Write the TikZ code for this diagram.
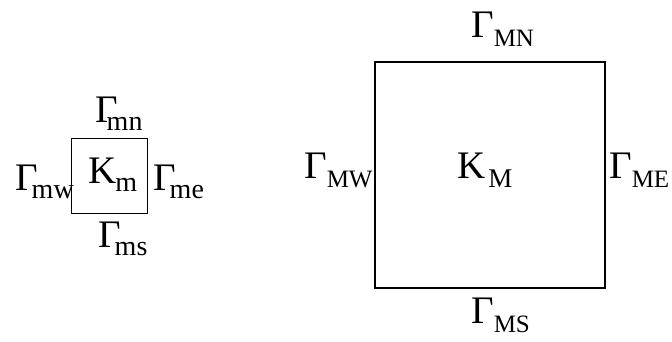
\documentclass[tikz,border=0pt]{standalone}
\usepackage{fontspec}
\setmainfont{Liberation Serif}
\newcommand\bigG[1]{\fontsize{39}{39}\selectfont #1}
\newcommand\gU[2]{{\bigG{#1}}\raisebox{-9pt}{\fontsize{25}{25}\selectfont #2}}
\newcommand\gL[3]{{\bigG{#1}}\kern#3\raisebox{-8pt}{\fontsize{28}{28}\selectfont #2}}
\begin{document}
\begin{tikzpicture}[x=1pt,y=-1pt,
  lbl/.style={inner sep=0pt,anchor=base west},
  thinbox/.style={draw,line width=0.9pt},
  thickbox/.style={draw,line width=1.8pt}]
\useasboundingbox (0,0) rectangle (672,341);
% small element
\draw[thinbox] (71,138) rectangle (147,213);
\node[lbl] (mn) at (95,122) {\gL{Γ}{mn}{-11pt}};
\node[lbl] (mw) at (15,190) {\gL{Γ}{mw}{-6pt}};
\node[lbl] (me) at (153,190) {\gL{Γ}{me}{-6pt}};
\node[lbl] (ms) at (98,247) {\gL{Γ}{ms}{-6pt}};
\node[lbl] (Km) at (88,183) {\gL{K}{m}{-1pt}};
% large element
\draw[thickbox] (375,62) rectangle (605,288);
\node[lbl] (MN) at (471,37) {\gU{Γ}{MN}};
\node[lbl] (MW) at (304,178) {\gU{Γ}{MW}};
\node[lbl] (ME) at (609,178) {\gU{Γ}{ME}};
\node[lbl] (MS) at (471,323) {\gU{Γ}{MS}};
\node[lbl] (KM) at (457,178) {{\bigG{K}}\kern3pt\raisebox{-9pt}{\fontsize{27}{27}\selectfont M}};
\end{tikzpicture}
\end{document}
